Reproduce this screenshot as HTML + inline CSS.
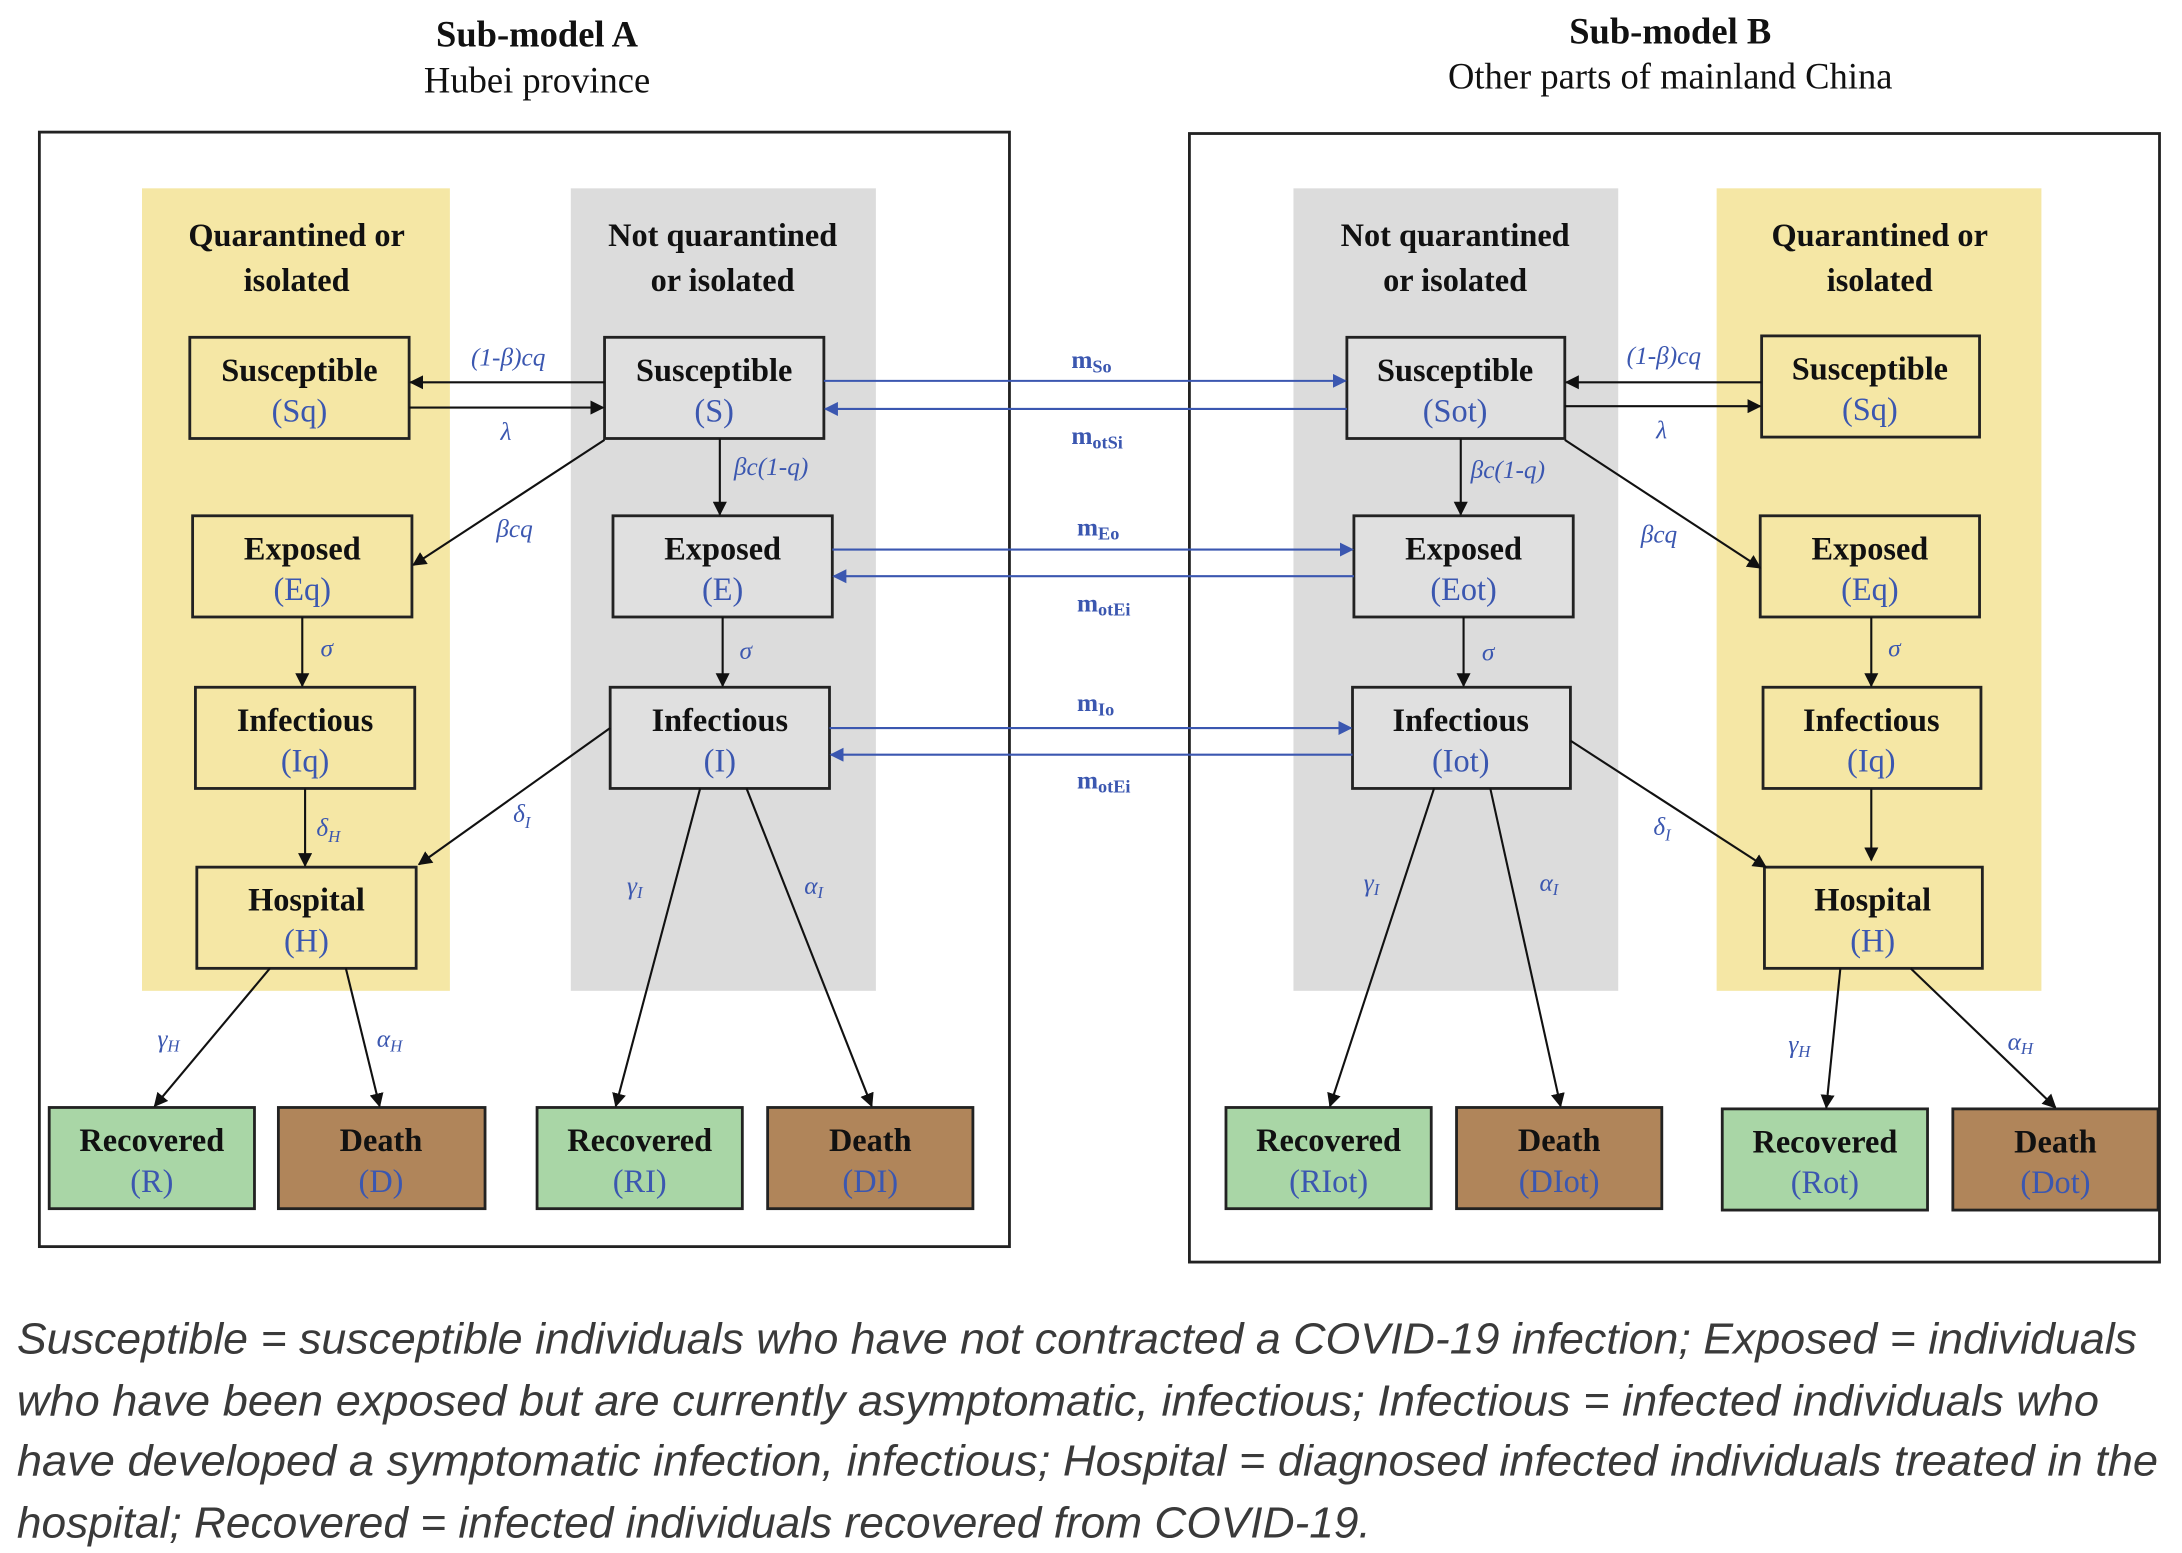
<!DOCTYPE html>
<html><head><meta charset="utf-8"><style>
html,body{margin:0;padding:0;background:#fff;}
svg{display:block;}
.t{font-family:"Liberation Serif",serif;font-weight:bold;font-size:23px;fill:#111;text-anchor:middle;}
.b{font-family:"Liberation Serif",serif;font-size:23px;fill:#3b57b0;text-anchor:middle;}
.l{font-family:"Liberation Serif",serif;font-size:18px;fill:#3b57b0;font-style:italic;}
.lb{font-family:"Liberation Serif",serif;font-size:18px;fill:#3b57b0;font-weight:bold;}
.h{font-family:"Liberation Serif",serif;font-size:26px;fill:#111;text-anchor:middle;}
.cap{font-family:"Liberation Sans",sans-serif;font-style:italic;font-size:31px;fill:#3a3a3a;}
</style></head><body>
<svg width="2182" height="1553" viewBox="0 0 1552 1105" preserveAspectRatio="none" xmlns="http://www.w3.org/2000/svg">
<defs>
<marker id="a" markerWidth="10" markerHeight="10" refX="9" refY="5" orient="auto" markerUnits="userSpaceOnUse"><path d="M0,0 L10,5 L0,10 z" fill="#111"/></marker>
<marker id="ab" markerWidth="10" markerHeight="10" refX="9" refY="5" orient="auto" markerUnits="userSpaceOnUse"><path d="M0,0 L10,5 L0,10 z" fill="#3b57b0"/></marker>
</defs>
<text class="h" x="382" y="33" font-weight="bold">Sub-model A</text>
<text class="h" x="382" y="66">Hubei province</text>
<text class="h" x="1188" y="31" font-weight="bold">Sub-model B</text>
<text class="h" x="1188" y="63">Other parts of mainland China</text>
<rect x="28" y="94" width="690" height="793" fill="none" stroke="#222" stroke-width="2"/>
<rect x="846" y="95" width="690" height="803" fill="none" stroke="#222" stroke-width="2"/>
<rect x="101" y="134" width="219" height="571" fill="#f5e7a5"/>
<rect x="406" y="134" width="217" height="571" fill="#dcdcdc"/>
<rect x="920" y="134" width="231" height="571" fill="#dcdcdc"/>
<rect x="1221" y="134" width="231" height="571" fill="#f5e7a5"/>
<text class="t" x="211" y="175">Quarantined or</text><text class="t" x="211" y="207">isolated</text>
<text class="t" x="514" y="175">Not quarantined</text><text class="t" x="514" y="207">or isolated</text>
<text class="t" x="1035" y="175">Not quarantined</text><text class="t" x="1035" y="207">or isolated</text>
<text class="t" x="1337" y="175">Quarantined or</text><text class="t" x="1337" y="207">isolated</text>
<g stroke="#222" stroke-width="2">
<rect x="135" y="240" width="156" height="72" fill="#f5e7a5"/>
<rect x="137" y="367" width="156" height="72" fill="#f5e7a5"/>
<rect x="139" y="489" width="156" height="72" fill="#f5e7a5"/>
<rect x="140" y="617" width="156" height="72" fill="#f5e7a5"/>
<rect x="430" y="240" width="156" height="72" fill="#e0e0e0"/>
<rect x="436" y="367" width="156" height="72" fill="#e0e0e0"/>
<rect x="434" y="489" width="156" height="72" fill="#e0e0e0"/>
<rect x="958" y="240" width="155" height="72" fill="#e0e0e0"/>
<rect x="963" y="367" width="156" height="72" fill="#e0e0e0"/>
<rect x="962" y="489" width="155" height="72" fill="#e0e0e0"/>
<rect x="1253" y="239" width="155" height="72" fill="#f5e7a5"/>
<rect x="1252" y="367" width="156" height="72" fill="#f5e7a5"/>
<rect x="1254" y="489" width="155" height="72" fill="#f5e7a5"/>
<rect x="1255" y="617" width="155" height="72" fill="#f5e7a5"/>
<rect x="35" y="788" width="146" height="72" fill="#a9d6a6"/>
<rect x="198" y="788" width="147" height="72" fill="#b0855a"/>
<rect x="382" y="788" width="146" height="72" fill="#a9d6a6"/>
<rect x="546" y="788" width="146" height="72" fill="#b0855a"/>
<rect x="872" y="788" width="146" height="72" fill="#a9d6a6"/>
<rect x="1036" y="788" width="146" height="72" fill="#b0855a"/>
<rect x="1225" y="789" width="146" height="72" fill="#a9d6a6"/>
<rect x="1389" y="789" width="146" height="72" fill="#b0855a"/>
</g>
<g>
<text class="t" x="213" y="271">Susceptible</text><text class="b" x="213" y="300">(Sq)</text>
<text class="t" x="215" y="398">Exposed</text><text class="b" x="215" y="427">(Eq)</text>
<text class="t" x="217" y="520">Infectious</text><text class="b" x="217" y="549">(Iq)</text>
<text class="t" x="218" y="648">Hospital</text><text class="b" x="218" y="677">(H)</text>
<text class="t" x="508" y="271">Susceptible</text><text class="b" x="508" y="300">(S)</text>
<text class="t" x="514" y="398">Exposed</text><text class="b" x="514" y="427">(E)</text>
<text class="t" x="512" y="520">Infectious</text><text class="b" x="512" y="549">(I)</text>
<text class="t" x="1035" y="271">Susceptible</text><text class="b" x="1035" y="300">(Sot)</text>
<text class="t" x="1041" y="398">Exposed</text><text class="b" x="1041" y="427">(Eot)</text>
<text class="t" x="1039" y="520">Infectious</text><text class="b" x="1039" y="549">(Iot)</text>
<text class="t" x="1330" y="270">Susceptible</text><text class="b" x="1330" y="299">(Sq)</text>
<text class="t" x="1330" y="398">Exposed</text><text class="b" x="1330" y="427">(Eq)</text>
<text class="t" x="1331" y="520">Infectious</text><text class="b" x="1331" y="549">(Iq)</text>
<text class="t" x="1332" y="648">Hospital</text><text class="b" x="1332" y="677">(H)</text>
<text class="t" x="108" y="819">Recovered</text><text class="b" x="108" y="848">(R)</text>
<text class="t" x="271" y="819">Death</text><text class="b" x="271" y="848">(D)</text>
<text class="t" x="455" y="819">Recovered</text><text class="b" x="455" y="848">(RI)</text>
<text class="t" x="619" y="819">Death</text><text class="b" x="619" y="848">(DI)</text>
<text class="t" x="945" y="819">Recovered</text><text class="b" x="945" y="848">(RIot)</text>
<text class="t" x="1109" y="819">Death</text><text class="b" x="1109" y="848">(DIot)</text>
<text class="t" x="1298" y="820">Recovered</text><text class="b" x="1298" y="849">(Rot)</text>
<text class="t" x="1462" y="820">Death</text><text class="b" x="1462" y="849">(Dot)</text>
</g>
<g stroke="#111" stroke-width="1.5" fill="none" marker-end="url(#a)">
<line x1="430" y1="272" x2="292" y2="272"/>
<line x1="291" y1="290" x2="429" y2="290"/>
<line x1="430" y1="313" x2="294" y2="402"/>
<line x1="512" y1="312" x2="512" y2="366"/>
<line x1="215" y1="439" x2="215" y2="488"/>
<line x1="514" y1="439" x2="514" y2="488"/>
<line x1="217" y1="561" x2="217" y2="616"/>
<line x1="434" y1="518" x2="298" y2="615"/>
<line x1="192" y1="689" x2="110" y2="787"/>
<line x1="246" y1="689" x2="270" y2="787"/>
<line x1="498" y1="561" x2="438" y2="787"/>
<line x1="531" y1="561" x2="620" y2="787"/>
<line x1="1253" y1="272" x2="1114" y2="272"/>
<line x1="1113" y1="289" x2="1252" y2="289"/>
<line x1="1113" y1="313" x2="1252" y2="404"/>
<line x1="1039" y1="312" x2="1039" y2="366"/>
<line x1="1331" y1="439" x2="1331" y2="488"/>
<line x1="1041" y1="439" x2="1041" y2="488"/>
<line x1="1331" y1="561" x2="1331" y2="612"/>
<line x1="1117" y1="527" x2="1256" y2="617"/>
<line x1="1020" y1="561" x2="946" y2="787"/>
<line x1="1060" y1="561" x2="1110" y2="787"/>
<line x1="1309" y1="689" x2="1299" y2="788"/>
<line x1="1359" y1="689" x2="1462" y2="788"/>
</g>
<g stroke="#3b57b0" stroke-width="1.5" fill="none">
<line x1="586" y1="271" x2="957" y2="271" marker-end="url(#ab)"/>
<line x1="958" y1="291" x2="587" y2="291" marker-end="url(#ab)"/>
<line x1="592" y1="391" x2="962" y2="391" marker-end="url(#ab)"/>
<line x1="963" y1="410" x2="593" y2="410" marker-end="url(#ab)"/>
<line x1="590" y1="518" x2="961" y2="518" marker-end="url(#ab)"/>
<line x1="962" y1="537" x2="591" y2="537" marker-end="url(#ab)"/>
</g>
<text class="lb" x="762" y="262">m<tspan font-size="13" dy="3">So</tspan></text>
<text class="lb" x="762" y="316">m<tspan font-size="13" dy="3">otSi</tspan></text>
<text class="lb" x="766" y="381">m<tspan font-size="13" dy="3">Eo</tspan></text>
<text class="lb" x="766" y="435">m<tspan font-size="13" dy="3">otEi</tspan></text>
<text class="lb" x="766" y="506">m<tspan font-size="13" dy="3">Io</tspan></text>
<text class="lb" x="766" y="561">m<tspan font-size="13" dy="3">otEi</tspan></text>
<text class="l" x="335" y="260">(1-β)cq</text>
<text class="l" x="356" y="313" font-style="normal">λ</text>
<text class="l" x="353" y="382">βcq</text>
<text class="l" x="522" y="338">βc(1-q)</text>
<text class="l" x="228" y="467" font-style="normal">σ</text>
<text class="l" x="526" y="469" font-style="normal">σ</text>
<text class="l" x="225" y="595">δ<tspan font-size="12" dy="4">H</tspan></text>
<text class="l" x="365" y="585">δ<tspan font-size="12" dy="4">I</tspan></text>
<text class="l" x="112" y="745" font-style="normal">γ<tspan font-size="12" dy="3">H</tspan></text>
<text class="l" x="268" y="745" font-style="normal">α<tspan font-size="12" dy="3">H</tspan></text>
<text class="l" x="446" y="636" font-style="normal">γ<tspan font-size="12" dy="3">I</tspan></text>
<text class="l" x="572" y="636" font-style="normal">α<tspan font-size="12" dy="3">I</tspan></text>
<text class="l" x="1157" y="259">(1-β)cq</text>
<text class="l" x="1178" y="312" font-style="normal">λ</text>
<text class="l" x="1167" y="386">βcq</text>
<text class="l" x="1046" y="340">βc(1-q)</text>
<text class="l" x="1343" y="467" font-style="normal">σ</text>
<text class="l" x="1054" y="470" font-style="normal">σ</text>
<text class="l" x="1176" y="594">δ<tspan font-size="12" dy="4">I</tspan></text>
<text class="l" x="970" y="634" font-style="normal">γ<tspan font-size="12" dy="3">I</tspan></text>
<text class="l" x="1095" y="634" font-style="normal">α<tspan font-size="12" dy="3">I</tspan></text>
<text class="l" x="1272" y="749" font-style="normal">γ<tspan font-size="12" dy="3">H</tspan></text>
<text class="l" x="1428" y="747" font-style="normal">α<tspan font-size="12" dy="3">H</tspan></text>
<text class="cap" x="12" y="963" textLength="1508" lengthAdjust="spacingAndGlyphs">Susceptible = susceptible individuals who have not contracted a COVID-19 infection; Exposed = individuals</text>
<text class="cap" x="12" y="1007" textLength="1481" lengthAdjust="spacingAndGlyphs">who have been exposed but are currently asymptomatic, infectious; Infectious = infected individuals who</text>
<text class="cap" x="12" y="1050" textLength="1523" lengthAdjust="spacingAndGlyphs">have developed a symptomatic infection, infectious; Hospital = diagnosed infected individuals treated in the</text>
<text class="cap" x="12" y="1094" textLength="963" lengthAdjust="spacingAndGlyphs">hospital; Recovered = infected individuals recovered from COVID-19.</text>
</svg>
</body></html>
